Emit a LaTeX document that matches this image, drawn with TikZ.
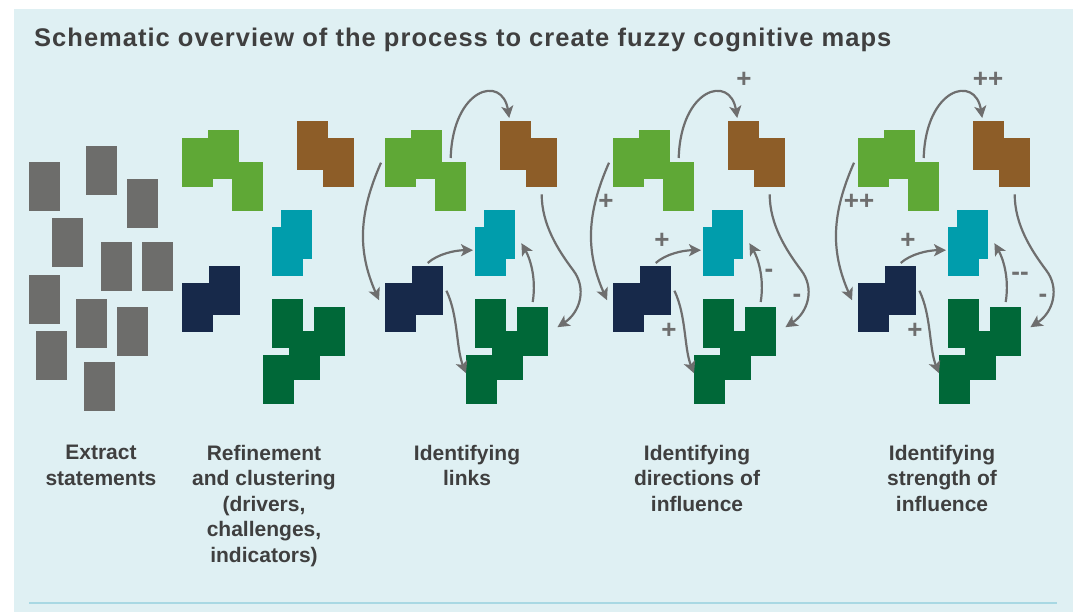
\documentclass[tikz,border=0pt]{standalone}
\usepackage{fontspec}
\setmainfont{Liberation Sans}
\newfontfamily\titlefont[LetterSpace=4]{Liberation Sans}
\usepackage{tikz}
\usetikzlibrary{arrows.meta}

\definecolor{bgblue}{HTML}{DFF0F3}
\definecolor{ruleblue}{HTML}{A8D8E3}
\definecolor{stmtgray}{HTML}{6D6D6B}
\definecolor{lgreen}{HTML}{5FA836}
\definecolor{cbrown}{HTML}{8D5D28}
\definecolor{cteal}{HTML}{009DAC}
\definecolor{cnavy}{HTML}{17294A}
\definecolor{dgreen}{HTML}{006838}
\definecolor{arrgray}{HTML}{6E6E6E}
\definecolor{txtgray}{HTML}{3F3F3F}

\tikzstyle{stmt}    = [rectangle, minimum width=31pt, minimum height=49pt, inner sep=0pt, anchor=north west, fill=stmtgray]
\tikzstyle{block}   = [rectangle, minimum width=31pt, minimum height=49pt, inner sep=0pt, anchor=north west]
\tikzstyle{arrow}   = [line width=2.2pt, draw=arrgray, -{Stealth[length=12pt,width=12pt,inset=3pt]}]
\tikzstyle{sign}    = [text=arrgray, inner sep=0pt, text height=0.6em, text depth=0pt, font=\bfseries\fontsize{26}{26}\selectfont]
\tikzstyle{caption} = [text=txtgray, inner sep=0pt, anchor=north, align=center, font=\bfseries\fontsize{21}{25.5}\selectfont]

% the five clusters, #1 = x shift, #2 = name prefix
\newcommand{\clusters}[2]{%
  \begin{scope}[shift={(#1,0)}]
    \node (#2gA) [block, fill=lgreen] at (182,138) {};
    \node (#2gB) [block, fill=lgreen] at (208,130) {};
    \node (#2gC) [block, fill=lgreen] at (232,162) {};
    \node (#2bA) [block, fill=cbrown] at (297,121) {};
    \node (#2bB) [block, fill=cbrown] at (323,138) {};
    \node (#2cA) [block, fill=cteal]  at (281,210) {};
    \node (#2cB) [block, fill=cteal]  at (272,227) {};
    \node (#2nA) [block, fill=cnavy]  at (209,266) {};
    \node (#2nB) [block, fill=cnavy]  at (182,283) {};
    \node (#2dA) [block, fill=dgreen] at (272,299) {};
    \node (#2dB) [block, fill=dgreen] at (314,307) {};
    \node (#2dC) [block, fill=dgreen] at (289,331) {};
    \node (#2dD) [block, fill=dgreen] at (263,355) {};
  \end{scope}}

% the links between the clusters
\newcommand{\links}[2]{%
  \begin{scope}[shift={(#1,0)}]
    \draw [arrow] ([shift={(0,-4)}]#2gC.north) .. controls +(2,-70) and +(-7,-44) .. ([shift={(-6.5,-3)}]#2bA.north);
    \draw [arrow] ([shift={(-4,0)}]#2gA.west) .. controls +(-22,50) and +(-22,-50) .. ([shift={(-6,-7.5)}]#2nB.west);
    \draw [arrow] ([shift={(0,-3)}]#2nA.north) .. controls +(10,-9) and +(-18,0) .. ([shift={(-2,-1.5)}]#2cB.west);
    \draw [arrow] ([shift={(3,0)}]#2nA.east) .. controls +(12,25) and +(-10,-25) .. ([shift={(0,-6.5)}]#2dD.west);
    \draw [arrow] ([shift={(0,-5)}]#2dB.north) .. controls +(4,-25) and +(8,14) .. ([shift={(6,8.5)}]#2cA.east);
    \draw [arrow] ([shift={(0,7)}]#2bB.south) .. controls +(0,30) and +(-15,-20) .. (370,270)
                  .. controls +(14,18) and +(23,-15) .. ([shift={(9,-4.5)}]#2dB.east);
  \end{scope}}

\begin{document}
\begin{tikzpicture}[x=1pt, y=-1pt]
  \useasboundingbox (0,0) rectangle (1081,612);
  \fill [white] (0,0) rectangle (1081,612);
  \fill [bgblue] (14,9) rectangle (1073,612);
  \draw [ruleblue, line width=2.5pt] (29,603) -- (1057,603);

  \node (title) [anchor=base west, inner sep=0pt, text=txtgray, font=\titlefont\bfseries\fontsize{25.5}{25.5}\selectfont] at (34,47)
    {Schematic overview of the process to create fuzzy cognitive maps};

  % statements
  \foreach \px/\py [count=\i] in {29/162, 86/146, 127/179, 52/218, 101/242, 142/242,
                                  29/275, 76/299, 117/307, 36/331, 84/362}
    \node (st\i) [stmt] at (\px,\py) {};

  % clusters
  \clusters{0}{ref}
  \clusters{203}{lnk}
  \clusters{431}{dir}
  \clusters{676}{str}

  \links{203}{lnk}
  \links{431}{dir}
  \links{676}{str}

  % directions
  \node (dir1) [sign] at (744,85)  {+};
  \node (dir2) [sign] at (606,207) {+};
  \node (dir3) [sign] at (662,246) {+};
  \node (dir4) [sign] at (769,275) {-};
  \node (dir5) [sign] at (797,299) {-};
  \node (dir6) [sign] at (669,335) {+};

  % strengths
  \node (str1) [sign] at (988,85)   {++};
  \node (str2) [sign] at (859,207)  {++};
  \node (str3) [sign] at (908,246)  {+};
  \node (str4) [sign] at (1020,277) {-{}-};
  \node (str5) [sign] at (1043,299) {-};
  \node (str6) [sign] at (915,335)  {+};

  % step captions
  \node (cap1) [caption] at (101,445) {Extract\\statements};
  \node (cap2) [caption] at (264,445) {Refinement\\and clustering\\(drivers,\\challenges,\\indicators)};
  \node (cap3) [caption] at (467,445) {Identifying\\links};
  \node (cap4) [caption] at (697,445) {Identifying\\directions of\\influence};
  \node (cap5) [caption] at (942,445) {Identifying\\strength of\\influence};
\end{tikzpicture}
\end{document}
